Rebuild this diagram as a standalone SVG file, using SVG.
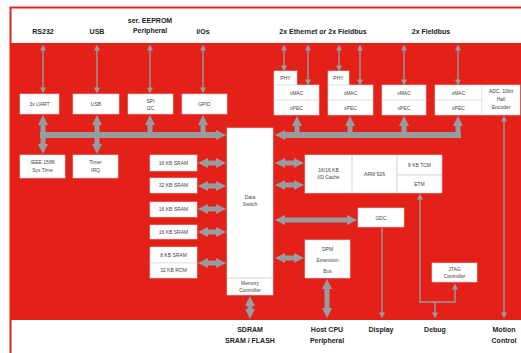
<svg xmlns="http://www.w3.org/2000/svg" width="521" height="353" viewBox="0 0 521 353">
<defs>
<style>
.lbl{font-family:"Liberation Sans",Arial,sans-serif;font-size:7px;font-weight:bold;fill:#222;text-anchor:middle}
.bt{font-family:"Liberation Sans",Arial,sans-serif;font-size:5px;fill:#444;text-anchor:middle}
.box{fill:#fff;stroke:#d8d8d8;stroke-width:0.6}
.thick{stroke:#979ca1;stroke-width:5;fill:none}
.bus{stroke:#979ca1;stroke-width:6;fill:none}
.thin{stroke:#979ca1;stroke-width:1.4;fill:none}
.d1{marker-start:url(#ah);marker-end:url(#ah)}
.e1{marker-end:url(#ah)}
.d2{marker-start:url(#at);marker-end:url(#at)}
.e2{marker-end:url(#at)}
</style>
<marker id="ah" viewBox="0 0 10 10" refX="1" refY="5" markerWidth="10" markerHeight="10" markerUnits="userSpaceOnUse" orient="auto-start-reverse"><path d="M0,0 L10,5 L0,10 z" fill="#979ca1"/></marker>
<marker id="at" viewBox="0 0 10 10" refX="1" refY="5" markerWidth="6" markerHeight="6" markerUnits="userSpaceOnUse" orient="auto-start-reverse"><path d="M0,0 L10,5 L0,10 z" fill="#979ca1"/></marker>
</defs>
<rect width="521" height="353" fill="#fff"/>
<rect x="10" y="43" width="511" height="277" fill="#e32119"/>
<path d="M521,7.5 H10.5 V353" stroke="#e32119" stroke-width="2" fill="none"/>

<g id="labels">
<text class="lbl" x="43" y="34">RS232</text>
<text class="lbl" x="97" y="34">USB</text>
<text class="lbl" x="150" y="23">ser. EEPROM</text>
<text class="lbl" x="150" y="33">Peripheral</text>
<text class="lbl" x="203" y="34">I/Os</text>
<text class="lbl" x="323" y="34">2x Ethernet or 2x Fieldbus</text>
<text class="lbl" x="431" y="34">2x Fieldbus</text>
<text class="lbl" x="250" y="332">SDRAM</text>
<text class="lbl" x="250" y="343">SRAM / FLASH</text>
<text class="lbl" x="327" y="332">Host CPU</text>
<text class="lbl" x="327" y="343">Peripheral</text>
<text class="lbl" x="381" y="332">Display</text>
<text class="lbl" x="435" y="332">Debug</text>
<text class="lbl" x="504" y="332">Motion</text>
<text class="lbl" x="504" y="343">Control</text>
</g>

<g id="connectors">
<line class="thin d2" x1="43" y1="50" x2="43" y2="88"/>
<line class="thin d2" x1="97" y1="50" x2="97" y2="88"/>
<line class="thin d2" x1="150" y1="50" x2="150" y2="88"/>
<line class="thin d2" x1="203" y1="50" x2="203" y2="88"/>
<line class="thin d2" x1="284" y1="50" x2="284" y2="66"/>
<line class="thin d2" x1="308" y1="50" x2="308" y2="80"/>
<line class="thin d2" x1="339" y1="50" x2="339" y2="66"/>
<line class="thin d2" x1="360" y1="50" x2="360" y2="80"/>
<line class="thin d2" x1="404" y1="50" x2="404" y2="80"/>
<line class="thin d2" x1="458" y1="50" x2="458" y2="80"/>
<line class="bus e1" x1="40" y1="135" x2="217" y2="135"/>
<line class="bus e1" x1="461" y1="135" x2="284" y2="135"/>
<line class="thick e1" x1="43" y1="135" x2="43" y2="124"/>
<line class="thick e1" x1="97" y1="135" x2="97" y2="124"/>
<line class="thick e1" x1="150" y1="135" x2="150" y2="124"/>
<line class="thick e1" x1="203" y1="135" x2="203" y2="124"/>
<line class="thick e1" x1="43" y1="135" x2="43" y2="145"/>
<line class="thick e1" x1="97" y1="135" x2="97" y2="145"/>
<line class="thick e1" x1="297" y1="135" x2="297" y2="125"/>
<line class="thick e1" x1="350" y1="135" x2="350" y2="125"/>
<line class="thick e1" x1="404" y1="135" x2="404" y2="125"/>
<line class="thick e1" x1="458" y1="135" x2="458" y2="125"/>
<line class="thick d1" x1="207" y1="163" x2="217" y2="163"/>
<line class="thick d1" x1="207" y1="186" x2="217" y2="186"/>
<line class="thick d1" x1="207" y1="209" x2="217" y2="209"/>
<line class="thick d1" x1="207" y1="232" x2="217" y2="232"/>
<line class="thick d1" x1="207" y1="263" x2="217" y2="263"/>
<line class="thick d1" x1="284" y1="163" x2="295" y2="163"/>
<line class="thick d1" x1="284" y1="185" x2="295" y2="185"/>
<line class="thick d1" x1="284" y1="220" x2="348" y2="220"/>
<line class="thick d1" x1="284" y1="258" x2="295" y2="258"/>
<line class="thick d1" x1="327" y1="288" x2="327" y2="309"/>
<line class="thick d1" x1="250" y1="305" x2="250" y2="310"/>
<line class="thin e2" x1="382" y1="228" x2="382" y2="313"/>
<path class="thin d2" d="M420,199 V302 H455 V289"/>
<line class="thin e2" x1="435" y1="302" x2="435" y2="313"/>
<line class="thin d2" x1="504" y1="121" x2="504" y2="313"/>
</g>

<g id="uart"><rect class="box" x="20" y="94" width="39" height="20"/><text class="bt" x="39.5" y="106">3x UART</text></g>
<g id="usb"><rect class="box" x="73" y="94" width="46" height="20"/><text class="bt" x="96" y="106">USB</text></g>
<g id="spi"><rect class="box" x="128" y="94" width="45" height="20"/><text class="bt" x="150.5" y="102.5">SPI</text><text class="bt" x="150.5" y="109.5">I2C</text></g>
<g id="gpio"><rect class="box" x="182" y="94" width="45" height="20"/><text class="bt" x="204.5" y="106">GPIO</text></g>
<g id="ieee"><rect class="box" x="20" y="155" width="45" height="23"/><text class="bt" x="42.5" y="164">IEEE 1588</text><text class="bt" x="42.5" y="172">Sys Time</text></g>
<g id="timer"><rect class="box" x="73" y="155" width="45" height="23"/><text class="bt" x="95.5" y="164">Timer</text><text class="bt" x="95.5" y="172">IRQ</text></g>

<g id="phy0"><rect class="box" x="274" y="71" width="23" height="14"/><text class="bt" x="285.5" y="79.5">PHY</text></g>
<g id="phy1"><rect class="box" x="328" y="71" width="21" height="14"/><text class="bt" x="338.5" y="79.5">PHY</text></g>
<g id="xc0"><rect class="box" x="274" y="85" width="45" height="15"/><rect class="box" x="274" y="100" width="45" height="15"/><text class="bt" x="296.5" y="94.5">xMAC</text><text class="bt" x="296.5" y="109.5">xPEC</text></g>
<g id="xc1"><rect class="box" x="328" y="85" width="45" height="15"/><rect class="box" x="328" y="100" width="45" height="15"/><text class="bt" x="350.5" y="94.5">xMAC</text><text class="bt" x="350.5" y="109.5">xPEC</text></g>
<g id="xc2"><rect class="box" x="382" y="85" width="44" height="15"/><rect class="box" x="382" y="100" width="44" height="15"/><text class="bt" x="404" y="94.5">xMAC</text><text class="bt" x="404" y="109.5">xPEC</text></g>
<g id="xc3"><rect class="box" x="435" y="85" width="47" height="15"/><rect class="box" x="435" y="100" width="47" height="15"/><text class="bt" x="458.5" y="94.5">xMAC</text><text class="bt" x="458.5" y="109.5">xPEC</text></g>
<g id="adc"><rect class="box" x="482" y="85" width="38" height="30"/><text class="bt" x="501" y="93">ADC, 10bit</text><text class="bt" x="501" y="101">Hall</text><text class="bt" x="501" y="109">Encoder</text></g>

<g id="mem"><rect class="box" x="150" y="155" width="47" height="16"/><text class="bt" x="173.5" y="164.8">16 KB SRAM</text>
<rect class="box" x="150" y="178" width="47" height="15"/><text class="bt" x="173.5" y="187.3">32 KB SRAM</text>
<rect class="box" x="150" y="202" width="47" height="15"/><text class="bt" x="173.5" y="211.3">16 KB SRAM</text>
<rect class="box" x="150" y="225" width="47" height="14"/><text class="bt" x="173.5" y="233.8">16 KB SRAM</text>
<rect class="box" x="150" y="247" width="47" height="16"/><rect class="box" x="150" y="263" width="47" height="15"/><text class="bt" x="173.5" y="256.8">8 KB SRAM</text><text class="bt" x="173.5" y="272.3">32 KB ROM</text></g>

<g id="switch"><rect class="box" x="227" y="128" width="46" height="167"/><line x1="227" y1="278" x2="273" y2="278" stroke="#bbb" stroke-width="0.6"/><text class="bt" x="250" y="199">Data</text><text class="bt" x="250" y="206">Switch</text><text class="bt" x="250" y="285">Memory</text><text class="bt" x="250" y="292">Controller</text></g>

<g id="cpu"><rect class="box" x="305" y="155" width="137" height="38"/><line x1="352" y1="155" x2="352" y2="193" stroke="#bbb" stroke-width="0.6"/><line x1="397" y1="155" x2="397" y2="193" stroke="#bbb" stroke-width="0.6"/><line x1="397" y1="175" x2="442" y2="175" stroke="#bbb" stroke-width="0.6"/>
<text class="bt" x="328.5" y="172">16/16 KB</text><text class="bt" x="328.5" y="179">I/D Cache</text><text class="bt" x="374.5" y="176">ARM 926</text><text class="bt" x="419.5" y="167">8 KB TCM</text><text class="bt" x="419.5" y="186">ETM</text></g>

<g id="gdc"><rect class="box" x="358" y="208" width="46" height="19"/><text class="bt" x="381" y="219.5">GDC</text></g>
<g id="dpm"><rect class="box" x="305" y="240" width="45" height="38"/><text class="bt" x="327.5" y="251">DPM</text><text class="bt" x="327.5" y="262">Extension</text><text class="bt" x="327.5" y="273">Bus</text></g>
<g id="jtag"><rect class="box" x="432" y="263" width="45" height="19"/><text class="bt" x="454.5" y="271">JTAG</text><text class="bt" x="454.5" y="278">Controller</text></g>
</svg>
